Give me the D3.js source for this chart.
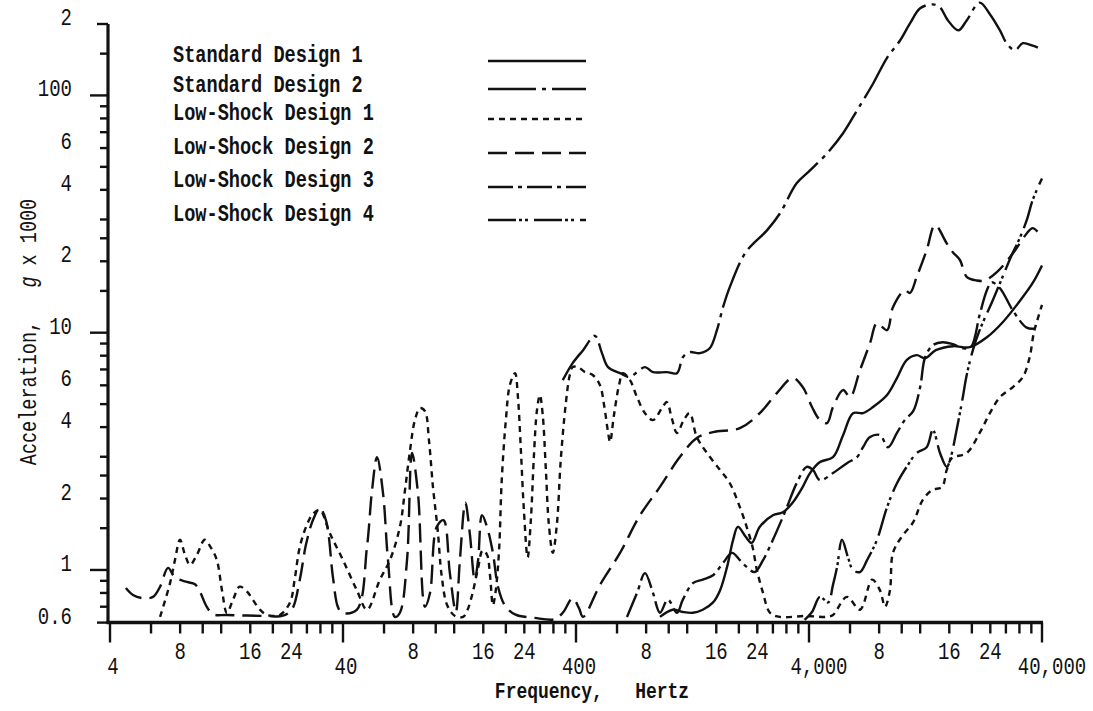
<!DOCTYPE html>
<html><head><meta charset="utf-8">
<script src="https://cdn.jsdelivr.net/npm/d3@7"></script>
<style>body{margin:0;background:#fff}svg{display:block;background:#fff}text{white-space:pre}</style>
</head><body><svg id="c" width="1093" height="711"></svg>
<script>
// ---- data: [frequency Hz, acceleration g x 1000] ----
const std1 = [[917,0.634],[1040,0.68],[1150,0.665],[1270,0.66],[1400,0.68],[1550,0.73],[1660,0.82],[1780,1.03],[1890,1.34],[1980,1.52],[2140,1.38],[2270,1.30],[2460,1.52],[2800,1.70],[3090,1.75],[3400,1.92],[3760,2.24],[4040,2.56],[4460,2.85],[5070,2.99],[5600,3.70],[6180,4.58],[6820,4.58],[7530,4.86],[8650,5.46],[9540,6.44],[10500,7.66],[11600,8.04],[12600,7.8],[14000,8.44],[16600,8.77],[19600,8.69],[23200,9.57],[27200,11.1],[32300,13.7],[36500,16.2],[40000,19.2]];
const std2 = [[351,6.31],[387,7.44],[429,8.44],[482,9.7],[517,8.2],[549,7.16],[618,6.75],[682,6.5],[731,6.82],[791,7.16],[856,6.82],[982,6.82],[1085,6.75],[1150,7.88],[1230,8.28],[1360,8.2],[1500,8.6],[1610,10.25],[1710,12.8],[1830,15.6],[2140,21.8],[2640,27.0],[3000,31.8],[3540,42.6],[4040,48.3],[4780,57.0],[5600,69.3],[6430,86.5],[7530,112],[8650,144],[9820,170],[10850,201],[12000,233],[13600,242],[14600,235],[15800,207],[17500,188],[19000,207],[21600,246],[23900,220],[26400,188],[28200,166],[30600,155],[33100,166],[36500,162],[38400,159]];
const ls1 = [[6.56,0.634],[7.24,0.88],[7.60,1.10],[7.99,1.34],[8.39,1.16],[8.82,1.05],[9.45,1.16],[10.2,1.34],[10.85,1.24],[11.5,1.10],[12.1,0.82],[12.7,0.66],[13.5,0.75],[14.4,0.85],[15.5,0.81],[16.4,0.75],[17.6,0.68],[18.9,0.646],[21.4,0.646],[23.7,0.73],[24.8,0.91],[26.1,1.25],[28.0,1.55],[29.7,1.72],[31.8,1.79],[35.1,1.43],[40,1.10],[45.9,0.82],[50.7,0.68],[57.6,0.91],[63.6,1.10],[70.2,1.52],[73.8,2.17],[77.6,3.20],[81.4,4.28],[85.6,4.81],[89.9,4.67],[93.5,3.53],[97.3,2.24],[102,1.47],[106,0.95],[112,0.71],[121,0.64],[131,0.634],[137,0.68],[144,0.80],[152,1.02],[159,1.21],[166,1.16],[171,0.95],[176,0.71],[181,0.82],[187,1.21],[192,2.39],[200,4.28],[208,6.01],[219,6.75],[225,5.46],[232,3.20],[239,1.79],[248,1.13],[256,1.62],[264,3.05],[272,4.72],[280,5.46],[288,4.49],[297,2.64],[306,1.55],[318,1.18],[331,1.55],[344,2.90],[361,4.95],[376,6.62],[387,7.16],[408,7.16],[437,6.82],[473,6.62],[507,6.01],[528,4.95],[549,3.81],[560,3.46],[582,4.49],[612,6.01],[636,6.75],[682,6.31],[731,5.35],[791,4.58],[856,4.28],[935,4.81],[982,5.10],[1030,4.37],[1085,3.78],[1160,4.28],[1230,4.58],[1320,3.63],[1460,3.11],[1660,2.64],[1830,2.32],[2020,1.84],[2160,1.52],[2290,1.25],[2390,1.0],[2540,0.80],[2720,0.66],[3000,0.634],[3910,0.64],[4780,0.634],[5070,0.646],[5820,0.77],[6620,0.68],[7460,0.91],[8070,0.82],[8480,0.70],[8900,0.82],[9170,1.18],[10000,1.38],[11200,1.59],[12300,1.97],[13500,2.17],[14900,2.24],[15600,2.64],[16400,2.96],[19000,3.11],[21600,3.78],[23900,4.58],[26400,5.35],[30000,5.90],[33100,6.5],[35400,7.88],[36900,10],[38400,11.5],[40000,13.1]];
const ls2 = [[4.68,0.84],[5.02,0.785],[5.54,0.76],[6.12,0.77],[6.56,0.85],[7.10,1.02],[7.60,0.93],[8.56,0.89],[9.26,0.87],[9.73,0.81],[10.4,0.70],[11.1,0.65],[12.7,0.646],[18.9,0.64],[21.9,0.64],[24.1,0.68],[26.1,0.91],[27.7,1.27],[29.7,1.62],[31.8,1.82],[33.8,1.62],[36.2,0.935],[38.0,0.70],[39.6,0.66],[45.9,0.68],[50.7,1.25],[53.3,2.17],[56.0,2.99],[59.4,2.11],[62.4,1.10],[66.8,0.634],[70.2,0.66],[75.3,1.10],[79.1,3.11],[83.9,2.11],[89.9,0.70],[94.5,0.80],[101,1.52],[108,1.62],[115,0.97],[122,0.665],[127,1.10],[134,1.92],[140,1.43],[147,0.91],[152,1.10],[158,1.70],[166,1.52],[176,1.18],[185,0.85],[198,0.71],[219,0.65],[266,0.628],[324,0.62],[351,0.66],[387,0.76],[412,0.69],[429,0.634],[507,0.865],[618,1.18],[753,1.70],[917,2.24],[1116,2.99],[1320,3.60],[1550,3.81],[2020,3.96],[2460,4.58],[2910,5.56],[3400,6.44],[3760,5.90],[4120,4.86],[4460,4.28],[4780,4.16],[5070,4.86],[5600,5.73],[6000,5.35],[6620,6.95],[7310,9.03],[7830,10.96],[8650,10.25],[9170,12.8],[10300,15.1],[10850,14.7],[11600,17.2],[12800,22.3],[13900,28.4],[15600,23.8],[16600,21.8],[17800,20.2],[19000,17.2],[21000,16.6],[22700,16.6],[25600,18.0],[30000,21.6],[34400,26.2],[36500,27.6],[40000,25.3]];
const ls3 = [[662,0.634],[731,0.80],[791,0.97],[856,0.80],[917,0.66],[992,0.75],[1085,0.66],[1150,0.75],[1270,0.88],[1400,0.91],[1550,0.95],[1710,1.07],[1870,1.18],[2020,1.10],[2160,1.03],[2340,0.98],[2540,1.10],[2800,1.34],[3180,1.79],[3540,2.32],[3910,2.72],[4160,2.64],[4460,2.39],[5070,2.56],[5820,2.82],[6430,2.99],[6820,3.29],[7310,3.63],[8070,3.70],[8740,3.29],[9540,3.78],[10300,4.28],[11200,4.67],[12000,5.90],[12600,7.88],[13600,8.86],[15000,9.12],[16600,8.94],[18300,8.6],[19800,8.69],[21600,11.9],[23200,15.1],[24300,16.3],[26400,15.4],[30000,12.4],[34400,10.5],[37200,10.4]];
const ls4 = [[3830,0.616],[4120,0.665],[4460,0.77],[4830,0.73],[5070,0.865],[5280,1.03],[5540,1.34],[5880,1.13],[6180,1.0],[6620,0.98],[7100,1.10],[7830,1.34],[8650,1.84],[9540,2.32],[10500,2.72],[11600,3.11],[12800,3.29],[13600,3.89],[14600,3.11],[15600,2.72],[16200,2.96],[17200,3.89],[18200,5.2],[19000,6.62],[20200,8.44],[21600,10.25],[24600,13.7],[28200,18.9],[30000,21.8],[31800,24.5],[34400,29.8],[36500,36.3],[40000,44.7]];

const seriesNames = ["Standard Design 1","Standard Design 2","Low-Shock Design 1","Low-Shock Design 2","Low-Shock Design 3","Low-Shock Design 4"];
const seriesData = [std1, std2, ls1, ls2, ls3, ls4];

const xDecades = [4, 40, 400, 4000];
const xTickMultipliers = [1, 1.5, 2, 2.5, 3, 4, 5, 6, 7, 8, 9];
const xMajorTicks = [4, 40, 400, 4000, 40000];
const xLabelValues = [4, 8, 16, 24, 40, 80, 160, 240, 400, 800, 1600, 2400, 4000, 8000, 16000, 24000, 40000];
const xLabelTexts = ["4","8","16","24","40","8","16","24","400","8","16","24","4,000","8","16","24","40,000"];
const yTickValues = [200,150,100,90,80,70,60,50,40,30,25,20,15,10,9,8,7,6,5,4,3,2.5,2,1.5,1,0.9,0.8,0.7,0.6];
const yMajorTicks = [100, 10, 1];
const yLabelValues = [200, 100, 60, 40, 20, 10, 6, 4, 2, 1, 0.6];
const yLabelTexts = ["2","100","6","4","2","10","6","4","2","1","0.6"];

// ---- styles ----
const dashes = [null, "48,6,4,6", "6,5", "19,8", "25,5,4,5", "28,3,3,3,3,6"];
const FONT = "'Liberation Mono','Courier New',monospace";
const INK = "#111";

const svg = d3.select("#c");
svg.append("rect").attr("width",1093).attr("height",711).attr("fill","#fff");

const x = d3.scaleLog().domain([4, 40000]).range([110, 1042]);
const y = d3.scaleLog().domain([0.6, 200]).range([622.6, 24]);
const axY = 622.5, axX = 108;

// curves
const line = d3.line().x(d => x(d[0])).y(d => y(d[1])).curve(d3.curveCatmullRom.alpha(0.5));
seriesData.forEach((s, i) => {
  svg.append("path").attr("d", line(s)).attr("fill","none").attr("stroke",INK)
    .attr("stroke-width", 2.4).attr("stroke-linejoin","round")
    .attr("stroke-dasharray", dashes[i]);
});

// axes lines
svg.append("line").attr("x1",axX).attr("x2",axX).attr("y1",24).attr("y2",axY+1.5)
  .attr("stroke",INK).attr("stroke-width",3.2);
svg.append("line").attr("x1",axX-1.5).attr("x2",x(40000)+1).attr("y1",axY).attr("y2",axY)
  .attr("stroke",INK).attr("stroke-width",3.6);

// x ticks
const xTicks = xDecades.flatMap(d => xTickMultipliers.map(m => d*m)).concat([40000]);
svg.append("g").selectAll("line").data(xTicks).join("line")
  .attr("x1", d => x(d)).attr("x2", d => x(d))
  .attr("y1", axY).attr("y2", d => axY + (xMajorTicks.includes(d) ? 20 : 11))
  .attr("stroke",INK).attr("stroke-width",2.4);

// y ticks
svg.append("g").selectAll("line").data(yTickValues).join("line")
  .attr("x1", axX).attr("x2", d => axX - (yMajorTicks.includes(d) ? 18 : (d===200||d===0.6 ? 11 : 8)))
  .attr("y1", d => y(d)).attr("y2", d => y(d))
  .attr("stroke",INK).attr("stroke-width",2.4);

function stretchedText(g, px, py, txt, anchor, size, weight) {
  return g.append("text").attr("transform", `translate(${px},${py}) scale(1,1.25)`)
    .attr("text-anchor", anchor).attr("font-family", FONT).attr("font-size", size)
    .attr("font-weight", weight || "normal").attr("fill", INK).attr("xml:space","preserve").text(txt);
}

// x labels
const xl = svg.append("g");
xLabelValues.forEach((v, i) => {
  const major = xMajorTicks.includes(v);
  const t = xLabelTexts[i];
  const dx = t.includes(",") ? 10 : (major ? 3 : 0);
  stretchedText(xl, x(v) + dx, major ? 674 : 659, t, "middle", 19);
});

// y labels
const yl = svg.append("g");
yLabelValues.forEach((v, i) => {
  stretchedText(yl, 72, y(v) + 1, yLabelTexts[i], "end", 19);
});

// axis titles
stretchedText(svg, 592, 698, "Frequency,   Hertz", "middle", 18, "bold");
const yt = svg.append("text").attr("transform","translate(36,332) rotate(-90) scale(1,1.25)")
  .attr("text-anchor","middle").attr("font-family",FONT).attr("font-size",18.5).attr("fill",INK)
  .attr("xml:space","preserve");
yt.append("tspan").text("Acceleration,   ");
yt.append("tspan").attr("font-style","italic").text("g");
yt.append("tspan").text(" x 1000");

// legend
const legRowText = [62, 92, 120, 154, 187, 221];
const legRowLine = [61, 89, 119, 153, 187, 220];
const lg = svg.append("g");
seriesNames.forEach((n, i) => {
  stretchedText(lg, 173, legRowText[i], n, "start", 18.6, "bold");
  lg.append("line").attr("x1",488).attr("x2",586).attr("y1",legRowLine[i]).attr("y2",legRowLine[i])
    .attr("stroke",INK).attr("stroke-width",2.6).attr("stroke-dasharray",dashes[i]);
});
</script>
</body></html>
